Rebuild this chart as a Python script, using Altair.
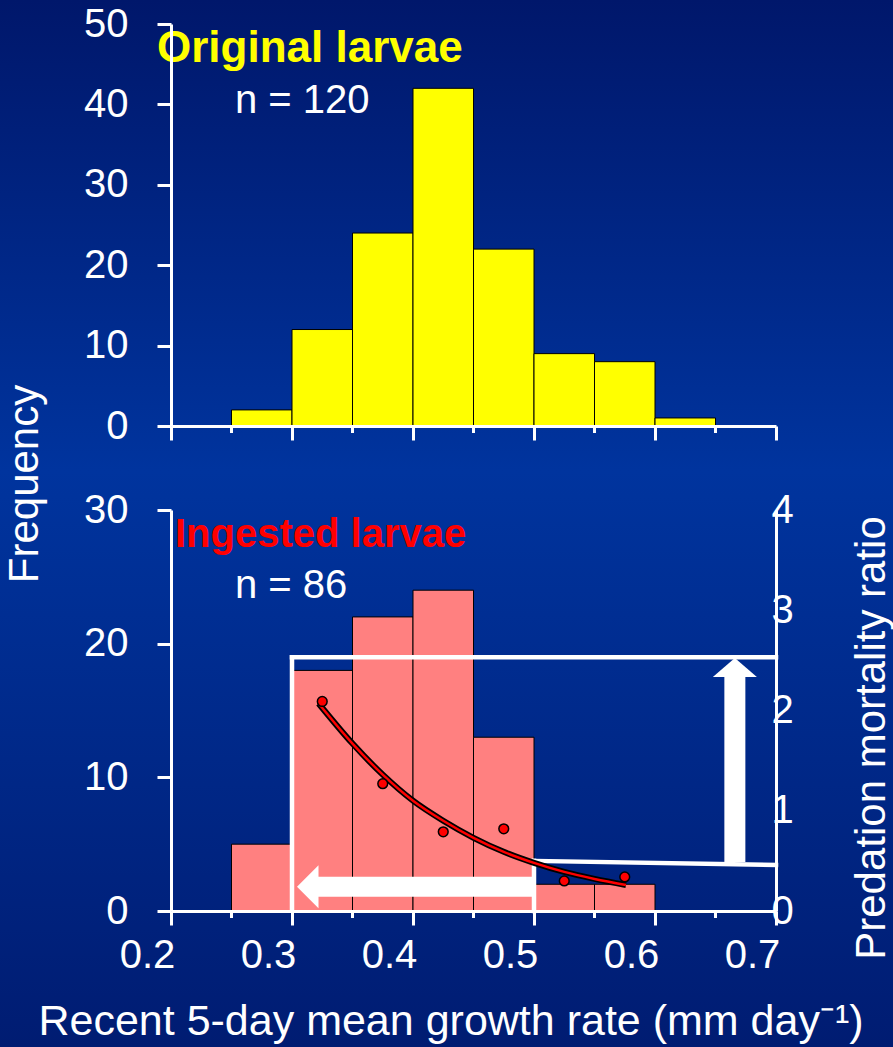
import altair as alt
import pandas as pd

FONT = "Liberation Sans"

# ---------------- data ----------------
orig_start = [0.25, 0.30, 0.35, 0.40, 0.45, 0.50, 0.55, 0.60]
orig_count = [2, 12, 24, 42, 22, 9, 8, 1]

ing_start = [0.25, 0.30, 0.35, 0.40, 0.45, 0.50, 0.55]
ing_count = [5, 18, 22, 24, 13, 2, 2]
BIN_W = 0.05

pt_x = [0.325, 0.375, 0.425, 0.475, 0.525, 0.575]
pt_ratio = [2.09, 1.27, 0.79, 0.82, 0.30, 0.34]

curve_x = [0.322, 0.35, 0.375, 0.40, 0.425, 0.45, 0.475, 0.50, 0.525, 0.55, 0.576]
curve_ratio = [2.07, 1.67, 1.36, 1.10, 0.90, 0.73, 0.59, 0.48, 0.39, 0.32, 0.26]

major_ticks = [0.2, 0.3, 0.4, 0.5, 0.6, 0.7]
minor_ticks = [0.25, 0.35, 0.45, 0.55, 0.65]
freq_ticks_top = [0, 10, 20, 30, 40, 50]
freq_ticks_bottom = [0, 10, 20, 30]
ratio_ticks = [0, 1, 2, 3, 4]

# white guide lines (x, ratio) -> (x2, ratio2)
guide_x = [0.30, 0.30, 0.50, 0.50]
guide_y = [2.53, 2.53, 0.50, 0.50]
guide_x2 = [0.70, 0.30, 0.70, 0.50]
guide_y2 = [2.53, 0.03, 0.46, 0.00]

# arrow shafts
shaft_x = [0.50, 0.666]
shaft_y = [0.242, 0.49]
shaft_x2 = [0.318, 0.666]
shaft_y2 = [0.242, 2.36]
shaft_w = [20, 21]

# arrow heads
head_x = [0.313, 0.666]
head_y = [0.242, 2.429]

TOP_H, BOT_H, W = 402, 401, 605

xs = alt.Scale(domain=[0.2, 0.7], nice=False, zero=False)

orig_df = pd.DataFrame({"start": orig_start, "count": orig_count})
orig_df["end"] = orig_df["start"] + BIN_W
ing_df = pd.DataFrame({"start": ing_start, "count": ing_count})
ing_df["end"] = ing_df["start"] + BIN_W
pts_df = pd.DataFrame({"x": pt_x, "ratio": pt_ratio})
curve_df = pd.DataFrame({"x": curve_x, "ratio": curve_ratio})
minor_df = pd.DataFrame({"t": minor_ticks})
guide_df = pd.DataFrame({"x": guide_x, "y": guide_y, "x2": guide_x2, "y2": guide_y2})
shaft_df = pd.DataFrame({"x": shaft_x, "y": shaft_y, "x2": shaft_x2, "y2": shaft_y2, "w": shaft_w})
one = pd.DataFrame({"k": [0]})


def label(text, x, y, size, color, weight="normal", angle=0, align="left", baseline="alphabetic"):
    return alt.Chart(one).mark_text(
        text=text, fontSize=size, color=color, fontWeight=weight, angle=angle,
        align=align, baseline=baseline, font=FONT,
    ).encode(x=alt.value(x), y=alt.value(y))


def x_axis(labels):
    if labels:
        return alt.Axis(values=major_ticks, tickSize=14, labelPadding=10, labelOffset=-24,
                        labelFlush=False, format=".1f", title=None, labelFontSize=40, zindex=1)
    return alt.Axis(values=major_ticks, tickSize=14, labels=False, title=None, zindex=1)


def y_axis(vals):
    return alt.Axis(values=vals, tickSize=14, labelPadding=29, title=None, labelFontSize=40,
                    labelFlush=False, zindex=1)


# ---------------- top panel ----------------
bg = alt.Chart(one).mark_rect(
    fill=alt.Gradient(
        gradient="linear", x1=0, y1=0, x2=0, y2=1,
        stops=[alt.GradientStop(offset=0, color="#00176B"),
               alt.GradientStop(offset=0.45, color="#00349E"),
               alt.GradientStop(offset=1, color="#001C72")],
    )
).encode(x=alt.value(-171), x2=alt.value(722), y=alt.value(-24), y2=alt.value(1023))

top_bars = alt.Chart(orig_df).mark_bar(fill="#FFFF00", stroke="black", strokeWidth=1).encode(
    x=alt.X("start:Q", scale=xs, axis=x_axis(False)),
    x2="end:Q",
    y=alt.Y("count:Q", scale=alt.Scale(domain=[0, 50], nice=False), axis=y_axis(freq_ticks_top)),
    y2=alt.datum(0),
)
top_minor = alt.Chart(minor_df).mark_rule(color="white", strokeWidth=3).encode(
    x=alt.X("t:Q", scale=xs), y=alt.value(TOP_H), y2=alt.value(TOP_H + 7)
)
top = alt.layer(
    bg, top_bars, top_minor,
    label("Original larvae", -14, 38, 44, "#FFFF00", weight="bold"),
    label("n = 120", 64, 89, 40, "white"),
    label("Frequency", -146, 460, 42, "white", angle=270, align="center", baseline="middle"),
).properties(width=W, height=TOP_H)

# ---------------- bottom panel ----------------
bot_bars = alt.Chart(ing_df).mark_bar(fill="#FF8080", stroke="black", strokeWidth=1).encode(
    x=alt.X("start:Q", scale=xs, axis=x_axis(True)),
    x2="end:Q",
    y=alt.Y("count:Q", scale=alt.Scale(domain=[0, 30], nice=False), axis=y_axis(freq_ticks_bottom)),
    y2=alt.datum(0),
)
bot_minor = alt.Chart(minor_df).mark_rule(color="white", strokeWidth=3).encode(
    x=alt.X("t:Q", scale=xs), y=alt.value(BOT_H), y2=alt.value(BOT_H + 7)
)
left_layer = alt.layer(
    bot_bars, bot_minor,
    label("Ingested larvae", 4, 37, 40, "#FF0000", weight="bold"),
    label("n = 86", 64, 88, 40, "white"),
    label("Recent 5-day mean growth rate (mm day\u207b\u00b9)", 280, 525, 43, "white", align="center"),
    label("Predation mortality ratio", 701, 228, 42, "white", angle=270, align="center", baseline="middle"),
)

rs = alt.Scale(domain=[0, 4], nice=False)
guides = alt.Chart(guide_df).mark_rule(color="white", strokeWidth=4.5, strokeCap="square").encode(
    x=alt.X("x:Q", scale=xs),
    x2="x2:Q",
    y=alt.Y("y:Q", scale=rs, axis=alt.Axis(orient="right", values=ratio_ticks, ticks=False, format="d",
                                           labelPadding=-5, title=None, labelFontSize=40,
                                           labelFlush=False, zindex=1)),
    y2="y2:Q",
)
shafts = alt.Chart(shaft_df).mark_rule(color="white", strokeCap="butt").encode(
    x=alt.X("x:Q", scale=xs), x2="x2:Q",
    y=alt.Y("y:Q", scale=rs), y2="y2:Q",
    strokeWidth=alt.StrokeWidth("w:Q", scale=None, legend=None),
)
head_left = alt.Chart(pd.DataFrame({"x": head_x[:1], "y": head_y[:1]})).mark_point(
    shape="M -0.5 0 L 0.5 -1 L 0.5 1 Z", size=1849, filled=True, color="white", opacity=1
).encode(x=alt.X("x:Q", scale=xs), y=alt.Y("y:Q", scale=rs))
head_up = alt.Chart(pd.DataFrame({"x": head_x[1:], "y": head_y[1:]})).mark_point(
    shape="M 0 -0.43 L 1 0.43 L -1 0.43 Z", size=1936, filled=True, color="white", opacity=1
).encode(x=alt.X("x:Q", scale=xs), y=alt.Y("y:Q", scale=rs))
curve_black = alt.Chart(curve_df).mark_line(color="black", strokeWidth=6, interpolate="monotone").encode(
    x=alt.X("x:Q", scale=xs), y=alt.Y("ratio:Q", scale=rs)
)
curve_red = alt.Chart(curve_df).mark_line(color="#FF0000", strokeWidth=2.5, interpolate="monotone").encode(
    x=alt.X("x:Q", scale=xs), y=alt.Y("ratio:Q", scale=rs)
)
points = alt.Chart(pts_df).mark_point(
    shape="circle", size=95, filled=True, fill="#FF0000", stroke="black", strokeWidth=1.5, opacity=1
).encode(x=alt.X("x:Q", scale=xs), y=alt.Y("ratio:Q", scale=rs))

right_layer = alt.layer(guides, shafts, head_left, head_up, curve_black, curve_red, points)

bottom = alt.layer(left_layer, right_layer).resolve_scale(y="independent").properties(width=W, height=BOT_H)

chart = alt.vconcat(top, bottom, spacing=84, bounds="flush").properties(
    padding=0, background="#00246F"
).configure_view(stroke=None).configure_axis(
    domainColor="white", domainWidth=3, tickColor="white", tickWidth=3,
    labelColor="white", labelFont=FONT, grid=False,
).configure_text(font=FONT)

chart.save("out.html", embed_options={"renderer": "svg", "actions": False})
